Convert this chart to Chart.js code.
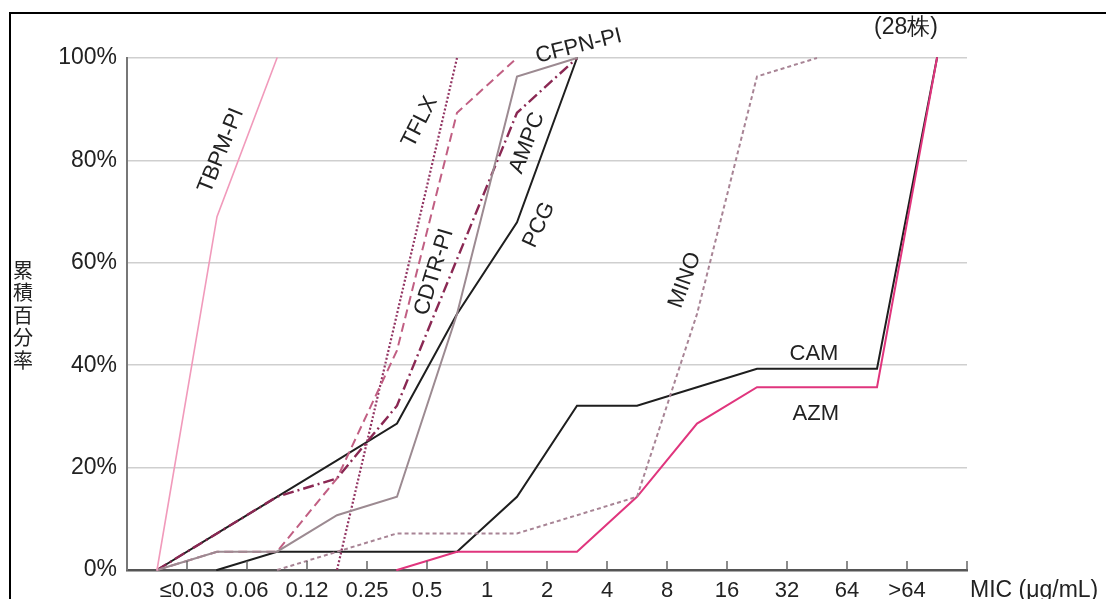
<!DOCTYPE html>
<html>
<head>
<meta charset="utf-8">
<script src="https://cdn.jsdelivr.net/npm/chart.js@4"></script>
<style>
  html, body { margin: 0; padding: 0; background: #fff; }
  #wrap { width: 1106px; height: 599px; }
</style>
</head>
<body>
<div id="wrap"><canvas id="mic-chart" width="1106" height="599"></canvas></div>
<script>
// MIC categories (tick labels) and the bin boundaries where the cumulative values sit
const micLabels = ["≤0.03", "0.06", "0.12", "0.25", "0.5", "1", "2", "4", "8", "16", "32", "64", ">64"];
const stepPos = [-0.5, 0.5, 1.5, 2.5, 3.5, 4.5, 5.5, 6.5, 7.5, 8.5, 9.5, 10.5, 11.5, 12.5];
const yTicks = [0, 20, 40, 60, 80, 100];

// cumulative % per drug, aligned with stepPos (null = no point)
const tbpm = [0, 69, 100, null, null, null, null, null, null, null, null, null, null, null];
const tflx = [null, null, null, 0, 50, 100, null, null, null, null, null, null, null, null];
const cdtr = [0, 3.57, 3.57, 17.9, 42.9, 89.3, 100, null, null, null, null, null, null, null];
const cfpn = [0, 3.57, 3.57, 10.7, 14.3, 50, 96.4, 100, null, null, null, null, null, null];
const pcg  = [0, 7.14, 14.3, 21.4, 28.6, 50, 67.9, 100, null, null, null, null, null, null];
const ampc = [0, 7.14, 14.3, 17.9, 32.1, 60.7, 89.3, 100, null, null, null, null, null, null];
const mino = [null, null, 0, 3.57, 7.14, 7.14, 7.14, 10.7, 14.3, 50, 96.4, 100, null, null];
const cam  = [null, 0, 3.57, 3.57, 3.57, 3.57, 14.3, 32.1, 32.1, 35.7, 39.3, 39.3, 39.3, 100];
const azm  = [null, null, null, null, 0, 3.57, 3.57, 3.57, 14.3, 28.6, 35.7, 35.7, 35.7, 100];

// series names and where their labels sit (in data units)
const drugNames = ["TBPM-PI", "TFLX", "CDTR-PI", "CFPN-PI", "PCG", "AMPC", "MINO", "CAM", "AZM"];
const labelX = [0.57, 3.88, 4.12, 6.53, 5.87, 5.67, 8.3, 10.45, 10.48];
const labelY = [81.9, 87.5, 58.2, 102.3, 67.4, 83.4, 56.6, 42.2, 30.5];
const labelRot = [-68, -63, -73, -14, -65, -69, -70, 0, 0];

function pts(values) {
  return stepPos.map((x, i) => ({ x: x, y: values[i] }));
}

function line(label, values, color, width, dash) {
  return {
    label: label,
    data: pts(values),
    borderColor: color,
    borderWidth: width,
    borderDash: dash || [],
    borderCapStyle: dash ? "butt" : "round",
    borderJoinStyle: "miter",
    pointRadius: 0,
    tension: 0,
    spanGaps: false,
    clip: 6,
  };
}

const FONT = '"Liberation Sans", Arial, sans-serif';

const decor = {
  id: "decor",
  beforeDraw(chart) {
    const ctx = chart.ctx;
    ctx.save();
    ctx.fillStyle = "#fff";
    ctx.fillRect(0, 0, chart.width, chart.height);
    // picture frame
    ctx.strokeStyle = "#000";
    ctx.lineWidth = 2;
    ctx.beginPath();
    ctx.moveTo(1106, 13);
    ctx.lineTo(10, 13);
    ctx.lineTo(10, 599);
    ctx.stroke();
    ctx.restore();
  },
  afterDraw(chart) {
    const ctx = chart.ctx;
    const xs = chart.scales.x;
    const ys = chart.scales.y;
    ctx.save();
    // inner tick marks on the x axis
    ctx.strokeStyle = "#666";
    ctx.lineWidth = 1.5;
    for (let i = 0; i <= micLabels.length; i++) {
      const px = xs.getPixelForValue(i);
      ctx.beginPath();
      ctx.moveTo(px, ys.bottom);
      ctx.lineTo(px, ys.bottom - 9);
      ctx.stroke();
    }
    // series labels
    ctx.fillStyle = "#222";
    ctx.font = "22px " + FONT;
    ctx.textAlign = "center";
    ctx.textBaseline = "middle";
    drugNames.forEach((name, i) => {
      ctx.save();
      ctx.translate(xs.getPixelForValue(labelX[i]), ys.getPixelForValue(labelY[i]));
      ctx.rotate(labelRot[i] * Math.PI / 180);
      ctx.fillText(name, 0, 0);
      ctx.restore();
    });
    // strain count
    ctx.font = "23px " + FONT;
    ctx.fillText("(28株)", 906, 28);
    // x axis unit
    ctx.textAlign = "left";
    ctx.fillText("MIC (μg/mL)", 970, 591);
    // vertical y title
    ctx.font = '20px "Noto Sans CJK JP", sans-serif';
    ctx.textAlign = "center";
    const chars = ["累", "積", "百", "分", "率"];
    chars.forEach((c, i) => ctx.fillText(c, 23, 270 + i * 22.5));
    ctx.restore();
  },
};

new Chart(document.getElementById("mic-chart"), {
  type: "line",
  data: {
    datasets: [
      line("TBPM-PI", tbpm, "#f19abb", 1.6),
      line("MINO", mino, "#a88495", 2, [4, 3]),
      line("CFPN-PI", cfpn, "#9c8a91", 2),
      line("CDTR-PI", cdtr, "#c15f83", 2, [9, 5]),
      line("TFLX", tflx, "#923462", 2.2, [2, 2]),
      line("AMPC", ampc, "#8a2853", 2.4, [11, 4, 2, 4]),
      line("PCG", pcg, "#1e1e1e", 2),
      line("AZM", azm, "#e0357d", 2),
      line("CAM", cam, "#1e1e1e", 2),
    ],
  },
  options: {
    responsive: false,
    animation: false,
    layout: { padding: { left: 10, right: 139, top: 58, bottom: 0 } },
    plugins: { legend: { display: false }, tooltip: { enabled: false } },
    scales: {
      x: {
        type: "linear",
        min: -1,
        max: 13,
        afterFit: (s) => { s.height = 29; },
        afterBuildTicks: (s) => {
          s.ticks = micLabels.map((_, i) => ({ value: i }));
        },
        ticks: {
          autoSkip: false,
          maxRotation: 0,
          padding: 8,
          color: "#222",
          font: { family: FONT, size: 22 },
          callback: (v) => micLabels[v] || "",
        },
        grid: { display: false, drawTicks: false },
        border: { color: "#555", width: 2.5 },
      },
      y: {
        min: 0,
        max: 100,
        afterFit: (s) => { s.width = 117; },
        afterBuildTicks: (s) => {
          s.ticks = yTicks.map((v) => ({ value: v }));
        },
        ticks: {
          padding: 10,
          color: "#222",
          font: { family: FONT, size: 23 },
          callback: (v) => v + "%",
        },
        grid: { color: "#cfcfcf", lineWidth: 1.5, drawTicks: false },
        border: { color: "#777", width: 2 },
      },
    },
  },
  plugins: [decor],
});
</script>
</body>
</html>
